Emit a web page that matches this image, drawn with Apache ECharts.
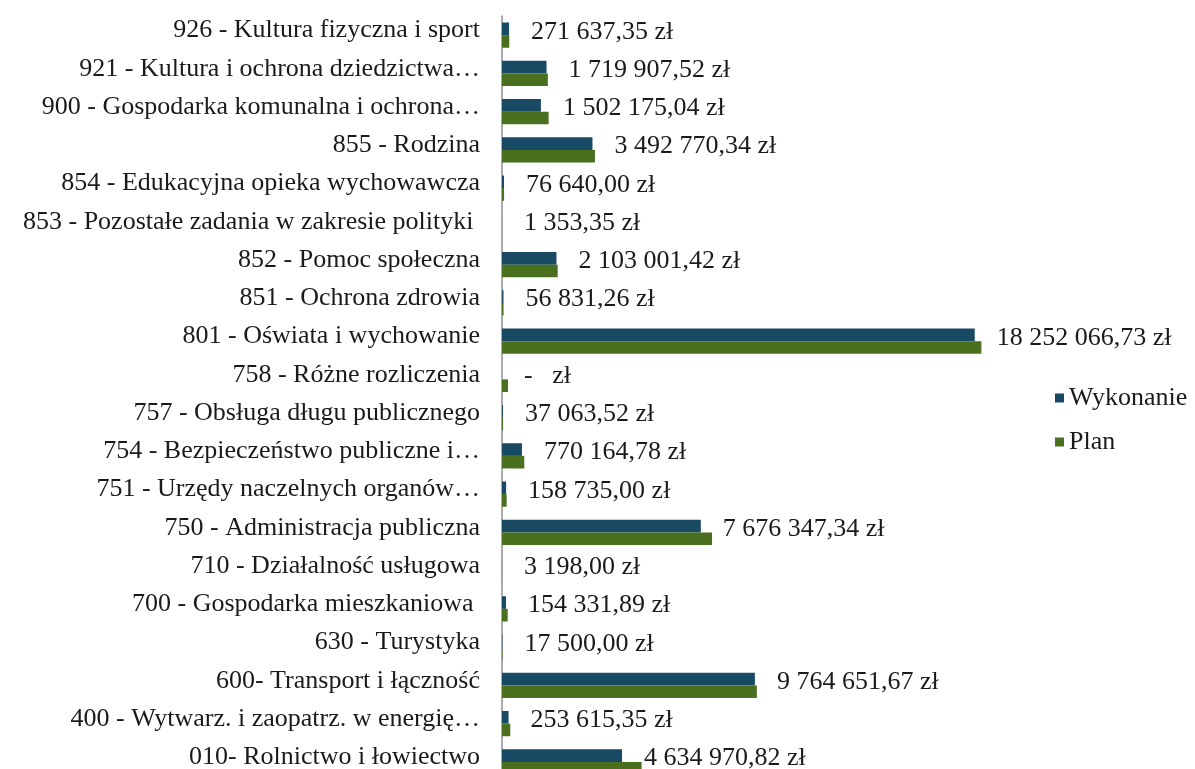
<!DOCTYPE html>
<html>
<head>
<meta charset="utf-8">
<script src="https://cdn.jsdelivr.net/npm/echarts@6/dist/echarts.min.js"></script>
<style>
html,body{margin:0;padding:0;background:#fff;}
#c{width:1195px;height:769px;}
</style>
</head>
<body>
<div id="c"></div>
<script>
var categories = [
  '010- Rolnictwo i łowiectwo',
  '400 - Wytwarz. i zaopatrz. w energię…',
  '600- Transport i łączność',
  '630 - Turystyka',
  '700 - Gospodarka mieszkaniowa ',
  '710 - Działalność usługowa',
  '750 - Administracja publiczna',
  '751 - Urzędy naczelnych organów…',
  '754 - Bezpieczeństwo publiczne i…',
  '757 - Obsługa długu publicznego',
  '758 - Różne rozliczenia',
  '801 - Oświata i wychowanie',
  '851 - Ochrona zdrowia',
  '852 - Pomoc społeczna',
  '853 - Pozostałe zadania w zakresie polityki ',
  '854 - Edukacyjna opieka wychowawcza',
  '855 - Rodzina',
  '900 - Gospodarka komunalna i ochrona…',
  '921 - Kultura i ochrona dziedzictwa…',
  '926 - Kultura fizyczna i sport'
];
var wykonanie = [4634970.82, 253615.35, 9764651.67, 17500.00, 154331.89, 3198.00, 7676347.34, 158735.00, 770164.78, 37063.52, 0, 18252066.73, 56831.26, 2103001.42, 1353.35, 76640.00, 3492770.34, 1502175.04, 1719907.52, 271637.35];
var plan = [5390000, 320000, 9840000, 20000, 220000, 4000, 8110000, 180000, 860000, 40000, 230000, 18510000, 60000, 2150000, 2000, 80000, 3590000, 1800000, 1770000, 280000];
var seriesNames = ['Wykonanie', 'Plan'];

function fmt(v) {
  if (!v) return '-   zł';
  var s = v.toFixed(2).split('.');
  var intPart = s[0].replace(/\B(?=(\d{3})+(?!\d))/g, ' ');
  return intPart + ',' + s[1] + ' zł';
}

var FONT = '"Liberation Serif", "Times New Roman", serif';
var chart = echarts.init(document.getElementById('c'));
chart.setOption({
  backgroundColor: '#ffffff',
  animation: false,
  textStyle: { fontFamily: FONT },
  grid: { left: 502, top: 16, width: 518, height: 765, outerBoundsMode: 'none', containLabel: false },
  legend: {
    data: seriesNames,
    orient: 'vertical',
    left: 1050,
    top: 380,
    itemWidth: 9,
    itemHeight: 9,
    itemGap: 18,
    icon: 'rect',
    textStyle: { fontFamily: FONT, fontSize: 26, color: '#1a1a1a' }
  },
  xAxis: {
    type: 'value',
    min: 0,
    max: 20000000,
    show: false,
    splitLine: { show: false }
  },
  yAxis: {
    type: 'category',
    data: categories,
    axisLine: { show: true, lineStyle: { color: '#8f8f8f', width: 1.5 } },
    axisTick: { show: false },
    axisLabel: {
      fontFamily: FONT, fontSize: 26, color: '#1a1a1a', margin: 22,
      verticalAlign: 'bottom', lineHeight: 9
    }
  },
  series: [
    {
      name: seriesNames[0],
      type: 'bar',
      data: wykonanie,
      barGap: '0%',
      barCategoryGap: '34%',
      itemStyle: { color: '#184a64' },
      label: {
        show: true,
        position: 'right',
        distance: 22,
        offset: [0, 3],
        fontFamily: FONT,
        fontSize: 26,
        color: '#1a1a1a',
        formatter: function (p) { return fmt(p.value); }
      }
    },
    {
      name: seriesNames[1],
      type: 'bar',
      data: plan,
      barGap: '0%',
      barCategoryGap: '34%',
      itemStyle: { color: '#4a6f1e' }
    }
  ]
});
</script>
</body>
</html>
